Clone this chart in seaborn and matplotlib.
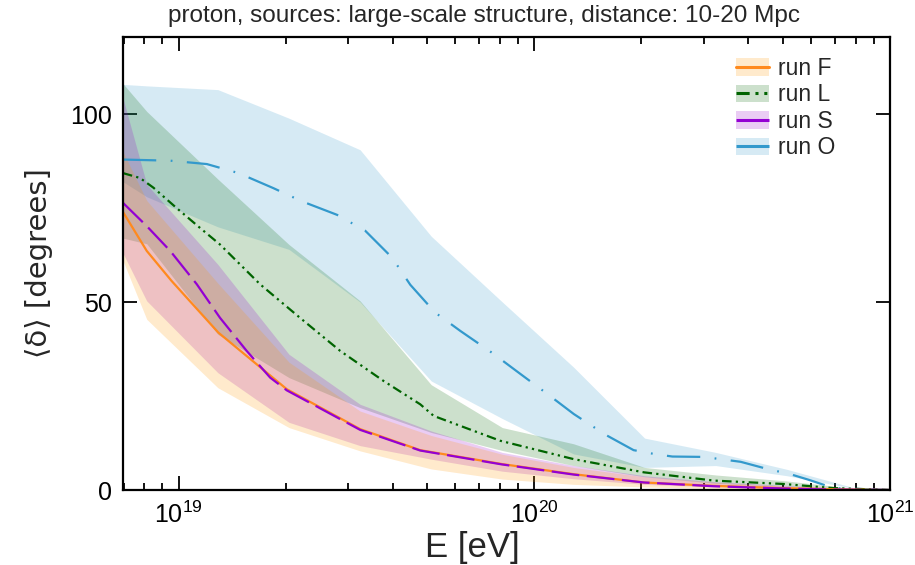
import numpy as np
import pandas as pd
import matplotlib
matplotlib.use("Agg")
import matplotlib.pyplot as plt
import seaborn as sns
from matplotlib.patches import Patch
from matplotlib.lines import Line2D
from matplotlib.ticker import LogLocator, NullFormatter, FixedLocator

# ---------------- data ----------------
series = ["run F", "run L", "run S", "run O"]

# band energies (log10 E/eV)
band_logE = [18.843, 18.91, 19.11, 19.31, 19.51, 19.71, 19.91, 20.11, 20.31, 20.51, 20.71, 20.91, 21.0]

F_low = [61, 45.4, 27.2, 16.6, 10.4, 5.6, 2.9, 1.5, 0.8, 0.4, 0.2, 0.0, 0.0]
F_high = [90, 77, 55, 34, 21, 14.5, 9.5, 6.0, 3.5, 2.0, 1.0, 0.2, 0.0]
L_low = [67, 65.5, 41.4, 29.9, 21.9, 15.3, 10.5, 6.5, 3.5, 1.8, 1.0, 0.1, 0.0]
L_high = [108.1, 100.7, 82.7, 65.3, 50.3, 28.0, 16.6, 12.3, 6.0, 4.0, 2.4, 0.3, 0.0]
S_low = [63, 50.3, 31.2, 18.0, 11.8, 8.2, 5.0, 3.0, 1.5, 0.8, 0.3, 0.05, 0.0]
S_high = [104.3, 81.3, 60, 36.1, 22.8, 15.7, 10.0, 6.5, 3.8, 2.2, 1.2, 0.3, 0.0]
O_low = [82, 78, 70, 64, 50, 29, 19, 9.6, 6.0, 6.5, 3.8, 0.2, 0.0]
O_high = [107.9, 107.5, 106.5, 98.9, 90.5, 67.5, 50.0, 32.7, 13.8, 10.0, 5.5, 0.3, 0.0]

# mean curves
F_logE = [18.843, 18.91, 18.98, 19.111, 19.304, 19.51, 19.679, 19.909, 20.111, 20.308, 20.504, 20.701, 20.842, 21.0]
F_val = [74, 63.6, 55.6, 41.9, 26.8, 16.2, 10.6, 6.9, 4.2, 2.0, 1.1, 0.5, 0.2, 0.0]

S_logE = [18.843, 18.91, 18.976, 19.051, 19.116, 19.191, 19.257, 19.304, 19.51, 19.679, 19.909, 20.111, 20.308, 20.504, 20.701, 20.842, 21.0]
S_val = [76.4, 70.2, 63.6, 54.7, 45.8, 37.0, 29.9, 26.5, 16.0, 10.5, 6.8, 4.1, 2.0, 1.0, 0.4, 0.1, 0.0]

L_logE = [18.843, 18.891, 18.929, 18.994, 19.06, 19.116, 19.229, 19.341, 19.454, 19.576, 19.679, 19.717, 19.904, 20.111, 20.308, 20.505, 20.701, 20.842, 21.0]
L_val = [84.3, 83.0, 80.4, 75.0, 69.7, 65.3, 54.7, 45.8, 37.0, 29.0, 22.8, 19.7, 13.1, 8.2, 4.7, 2.5, 1.6, 0.5, 0.0]

O_logE = [18.843, 18.976, 19.079, 19.168, 19.266, 19.346, 19.445, 19.524, 19.6, 19.651, 19.721, 19.792, 19.881, 19.956,
          20.04, 20.111, 20.2, 20.279, 20.336, 20.388, 20.476, 20.58, 20.655, 20.72, 20.772, 20.842, 21.0]
O_val = [87.9, 87.6, 86.7, 84.3, 80.3, 76.8, 73.2, 69.0, 61.8, 54.6, 47.2, 42.3, 36.5, 31.2,
         25.3, 20.2, 14.7, 10.6, 9.6, 8.9, 8.8, 7.5, 5.6, 4.2, 2.7, 0.5, 0.0]

x_ticks = [1e19, 1e20, 1e21]
y_ticks = [0, 50, 100]
title = "proton, sources: large-scale structure, distance: 10-20 Mpc"

# ---------------- style ----------------
sns.set_style("ticks")
plt.rcParams["font.family"] = ["Liberation Sans", "DejaVu Sans"]
plt.rcParams["mathtext.fontset"] = "custom"
plt.rcParams["mathtext.rm"] = "Liberation Sans"
plt.rcParams["mathtext.it"] = "Liberation Sans"
plt.rcParams["mathtext.default"] = "regular"

line_col = {"run F": "#FF8A1E", "run L": "#006400", "run S": "#9400D3", "run O": "#3399CC"}
band_col = {"run F": "#FF9900", "run L": "#006600", "run S": "#9900CC", "run O": "#3399CC"}
styles = {
    "run F": "-",
    "run L": (0, (4.3, 1.9, 1.0, 1.9, 1.0, 1.9)),
    "run S": (0, (12.5, 3.4)),
    "run O": (0, (15, 6.5, 0.8, 6.5)),
}

fig = plt.figure(figsize=(9.15, 5.65), dpi=100)
ax = fig.add_axes([123 / 915, 1 - 490 / 565, 767 / 915, 453 / 565])

bands = {
    "run F": (F_low, F_high),
    "run L": (L_low, L_high),
    "run S": (S_low, S_high),
    "run O": (O_low, O_high),
}
bandE = 10 ** np.array(band_logE)
for name in ["run O", "run L", "run S", "run F"]:
    lo, hi = bands[name]
    ax.fill_between(bandE, lo, hi, color=band_col[name], alpha=0.2, lw=0)

curves = {
    "run O": (O_logE, O_val),
    "run L": (L_logE, L_val),
    "run F": (F_logE, F_val),
    "run S": (S_logE, S_val),
}
for name, (le, v) in curves.items():
    df = pd.DataFrame({"E": 10 ** np.array(le), "v": v})
    sns.lineplot(data=df, x="E", y="v", ax=ax, color=line_col[name], lw=1.6,
                 linestyle=styles[name], estimator=None, sort=True)

ax.set_xscale("log")
ax.set_xlim(6.97e18, 1e21)
ax.set_ylim(0, 120.5)
ax.xaxis.set_major_locator(FixedLocator(x_ticks))
ax.xaxis.set_minor_locator(LogLocator(base=10, subs=np.arange(2, 10)))
ax.xaxis.set_minor_formatter(NullFormatter())
ax.set_xticks(x_ticks)
ax.set_xticklabels([r"$10^{19}$", r"$10^{20}$", r"$10^{21}$"])
ax.set_yticks(y_ticks)
ax.set_yticklabels([str(t) for t in y_ticks])

ax.tick_params(which="both", direction="in", top=True, right=True, width=1.3, colors="black", labelsize=18)
ax.tick_params(which="major", length=10, pad=8)
ax.tick_params(which="minor", length=5)
for s in ax.spines.values():
    s.set_linewidth(1.6)
    s.set_color("black")

ax.set_xlabel("E [eV]", fontsize=25)
ax.set_ylabel("⟨δ⟩ [degrees]", fontsize=21, family=["DejaVu Sans"])
ax.xaxis.set_label_coords((472 - 123) / 767, -0.09)
ax.yaxis.set_label_coords(-(123 - 53) / 767, 0.5)

fig.text(168 / 915, 1 - 16 / 565, title, ha="left", va="center", fontsize=17.5)

handles = []
for name in series:
    p = Patch(facecolor=band_col[name], alpha=0.2, edgecolor="none")
    l = Line2D([], [], color=line_col[name], lw=2.2, linestyle=styles[name])
    handles.append((p, l))
leg = ax.legend(handles, series, loc="upper left", bbox_to_anchor=((736 - 123) / 767, (490 - 57) / 453),
                frameon=False, fontsize=16.5, handlelength=1.45, handleheight=0.8, handletextpad=0.4,
                labelspacing=0.15, borderpad=0, borderaxespad=0)

fig.savefig("out.png", dpi=100)
